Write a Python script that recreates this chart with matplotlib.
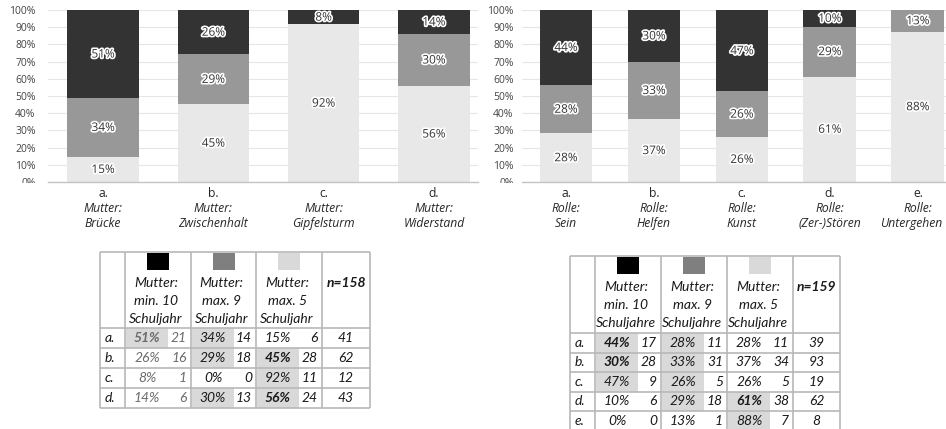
import numpy as np
import matplotlib
matplotlib.use("Agg")
import matplotlib.pyplot as plt
import matplotlib.patheffects as pe
import matplotlib.transforms as mtransforms
from matplotlib.patches import Rectangle

# ---------------- data ----------------
m_letters = ["a.", "b.", "c.", "d."]
m_names = ["Mutter:\nBrücke", "Mutter:\nZwischenhalt", "Mutter:\nGipfelsturm", "Mutter:\nWiderstand"]
m_min10_n = [21, 16, 1, 6]
m_max9_n = [14, 18, 0, 13]
m_max5_n = [6, 28, 11, 24]
m_total = [41, 62, 12, 43]
m_min10_pct = [51, 26, 8, 14]
m_max9_pct = [34, 29, 0, 30]
m_max5_pct = [15, 45, 92, 56]
m_n_label = "n=158"
m_header = [["Mutter:", "min. 10", "Schuljahr"],
            ["Mutter:", "max. 9", "Schuljahr"],
            ["Mutter:", "max. 5", "Schuljahr"]]
m_shade = [(0, 0), (0, 1), (1, 1), (1, 2), (2, 2), (3, 1), (3, 2)]
m_bold = [(0, 0), (1, 2), (3, 2)]
m_gray_cols = [0]

r_letters = ["a.", "b.", "c.", "d.", "e."]
r_names = ["Rolle:\nSein", "Rolle:\nHelfen", "Rolle:\nKunst", "Rolle:\n(Zer-)Stören", "Rolle:\nUntergehen"]
r_min10_n = [17, 28, 9, 6, 0]
r_max9_n = [11, 31, 5, 18, 1]
r_max5_n = [11, 34, 5, 38, 7]
r_total = [39, 93, 19, 62, 8]
r_min10_pct = [44, 30, 47, 10, 0]
r_max9_pct = [28, 33, 26, 29, 13]
r_max5_pct = [28, 37, 26, 61, 88]
r_n_label = "n=159"
r_header = [["Mutter:", "min. 10", "Schuljahre"],
            ["Mutter:", "max. 9", "Schuljahre"],
            ["Mutter:", "max. 5", "Schuljahre"]]
r_shade = [(0, 0), (1, 0), (2, 0), (0, 1), (1, 1), (2, 1), (3, 1), (3, 2), (4, 2)]
r_bold = [(0, 0), (1, 0), (3, 2)]
r_gray_cols = []

y_ticks = list(range(0, 101, 10))

# ---------------- style ----------------
C_DARK = "#333333"
C_MID = "#989898"
C_LIGHT = "#e8e8e8"
SW_COLORS = ["#000000", "#7f7f7f", "#d9d9d9"]
SHADE = "#d9d9d9"
GRID = "#e6e6e6"
TBL_LINE = "#b8b8b8"
CHART_FONT = ["Open Sans", "DejaVu Sans"]
TBL_FONT = ["Lato", "DejaVu Sans"]
TBL_FS = 10

W, H = 946, 429
fig = plt.figure(figsize=(W / 100, H / 100), dpi=100)

tax = fig.add_axes([0, 0, 1, 1])
tax.set_xlim(0, W)
tax.set_ylim(H, 0)
tax.axis("off")

xlabel_texts = []


def rect(x0, y0, x1, y1):
    return [x0 / W, 1 - y1 / H, (x1 - x0) / W, (y1 - y0) / H]


def bar_chart(ax, letters, names, n10, n9, n5, totals, p10, p9, p5, width, xmax, pad):
    x = np.arange(len(letters))
    tot = np.array(totals, float)
    h5 = np.array(n5) / tot * 100
    h9 = np.array(n9) / tot * 100
    h10 = np.array(n10) / tot * 100
    ax.bar(x, h5, width, color=C_LIGHT, zorder=2)
    ax.bar(x, h9, width, bottom=h5, color=C_MID, zorder=2)
    ax.bar(x, h10, width, bottom=h5 + h9, color=C_DARK, zorder=2)
    for hs, bs, ps in [(h5, np.zeros_like(h5), p5), (h9, h5, p9), (h10, h5 + h9, p10)]:
        for i in range(len(x)):
            if ps[i] > 0:
                ax.text(x[i], bs[i] + hs[i] / 2, f"{ps[i]}%", ha="center", va="center",
                        fontsize=8.5, color="#333333", family=CHART_FONT, zorder=3,
                        path_effects=[pe.withStroke(linewidth=2.4, foreground="white")])
    ax.set_xlim(-0.5, xmax)
    ax.set_ylim(0, 100)
    ax.set_yticks(y_ticks)
    ax.set_yticklabels([f"{v}%" for v in y_ticks], family=CHART_FONT, fontsize=7.5, color="#454545")
    ax.set_xticks([])
    ax.tick_params(axis="y", length=0, pad=pad)
    ax.grid(axis="y", color=GRID, lw=0.8, zorder=0)
    ax.set_axisbelow(True)
    for s in ["top", "right", "left"]:
        ax.spines[s].set_visible(False)
    ax.spines["bottom"].set_color("#c4c4c4")
    ax.spines["bottom"].set_linewidth(1.0)
    ax.patch.set_visible(False)
    base = ax.get_xaxis_transform()
    for i in range(len(x)):
        lines = [(letters[i], "normal", 11)] + \
                [(t, "italic", off) for t, off in zip(names[i].split("\n"), [26, 41])]
        for txt, style, off in lines:
            tr = mtransforms.offset_copy(base, fig=fig, x=0, y=-off, units="dots")
            t = ax.text(x[i], 0, txt, transform=tr, ha="center", va="center", fontsize=8.7,
                        style=style, family=CHART_FONT, color="#262626")
            xlabel_texts.append(t)
    # partially clipped 0% label like in the reference
    lab0 = ax.yaxis.get_major_ticks()[0].label1
    clip = mtransforms.TransformedBbox(
        mtransforms.Bbox.from_extents(0, 1 - 182.5 / H, 1, 1), fig.transFigure)
    lab0.set_clip_box(clip)
    lab0.set_clip_on(True)


ax1 = fig.add_axes(rect(48, 10, 478, 182))
bar_chart(ax1, m_letters, m_names, m_min10_n, m_max9_n, m_max5_n, m_total,
          m_min10_pct, m_max9_pct, m_max5_pct, 0.65, 3.4, 9)

ax2 = fig.add_axes(rect(522, 10, 946, 182))
bar_chart(ax2, r_letters, r_names, r_min10_n, r_max9_n, r_max5_n, r_total,
          r_min10_pct, r_max9_pct, r_max5_pct, 0.6, 4.32, 6)

# keep category labels inside the figure (as the original chart does)
renderer = fig.canvas.get_renderer()
for t in xlabel_texts:
    bb = t.get_window_extent(renderer)
    over = bb.x1 - (W - 4)
    if over > 0:
        t.set_transform(t.get_transform() + mtransforms.Affine2D().translate(-over, 0))


def draw_table(xe, y_top, y_hdr, row_h, y_bot, letters, pcts, counts, totals,
               shade, bold, gray_cols, header, n_label):
    nrows = len(letters)
    for (r, c) in shade:
        x0 = xe[c + 1]
        y0 = y_hdr + r * row_h
        tax.add_patch(Rectangle((x0 + 1, y0), 42, row_h, color=SHADE, lw=0, zorder=1))
    for xv in xe:
        tax.plot([xv, xv], [y_top, y_bot], color=TBL_LINE, lw=1.2, zorder=2,
                 solid_capstyle="butt")
    hlines = [y_top, y_hdr] + [y_hdr + (r + 1) * row_h for r in range(nrows)]
    for yv in hlines:
        tax.plot([xe[0], xe[-1]], [yv, yv], color=TBL_LINE, lw=1.2, zorder=2,
                 solid_capstyle="butt")
    for c in range(3):
        x0, x1 = xe[c + 1], xe[c + 2]
        xc = (x0 + x1) / 2
        tax.add_patch(Rectangle((xc - 11, y_top + 1), 22, 17, color=SW_COLORS[c], lw=0, zorder=3))
        for k, t in enumerate(header[c]):
            tax.text(xc - 2, y_top + 31 + k * 18, t, ha="center", va="center", fontsize=TBL_FS,
                     style="italic", family=TBL_FONT, color="#1a1a1a", zorder=4)
    tax.text((xe[4] + xe[5]) / 2, y_top + 31, n_label, ha="center", va="center", fontsize=TBL_FS,
             style="italic", weight="bold", family=TBL_FONT, color="#1a1a1a", zorder=4)
    for r in range(nrows):
        yc = y_hdr + r * row_h + row_h / 2
        tax.text(xe[0] + 5, yc, letters[r], ha="left", va="center", fontsize=TBL_FS,
                 style="italic", family=TBL_FONT, color="#1a1a1a", zorder=4)
        for c in range(3):
            x0, x1 = xe[c + 1], xe[c + 2]
            col = "#6b6b6b" if c in gray_cols else "#1a1a1a"
            wt = "bold" if (r, c) in bold else "normal"
            tax.text(x0 + 22, yc, f"{pcts[c][r]}%", ha="center", va="center", fontsize=TBL_FS,
                     style="italic", weight=wt, family=TBL_FONT, color=col, zorder=4)
            tax.text(x1 - 4, yc, f"{counts[c][r]}", ha="right", va="center", fontsize=TBL_FS,
                     style="italic", family=TBL_FONT, color=col, zorder=4)
        tax.text((xe[4] + xe[5]) / 2, yc, f"{totals[r]}", ha="center", va="center", fontsize=TBL_FS,
                 style="italic", family=TBL_FONT, color="#1a1a1a", zorder=4)


draw_table([100, 125, 191, 256, 322, 370], 252, 328, 20, 408, m_letters,
           [m_min10_pct, m_max9_pct, m_max5_pct], [m_min10_n, m_max9_n, m_max5_n], m_total,
           m_shade, m_bold, m_gray_cols, m_header, m_n_label)

draw_table([570, 595, 661, 727, 793, 840], 256, 333, 19.5, 431, r_letters,
           [r_min10_pct, r_max9_pct, r_max5_pct], [r_min10_n, r_max9_n, r_max5_n], r_total,
           r_shade, r_bold, r_gray_cols, r_header, r_n_label)

fig.savefig("out.png", dpi=100, facecolor="white")
